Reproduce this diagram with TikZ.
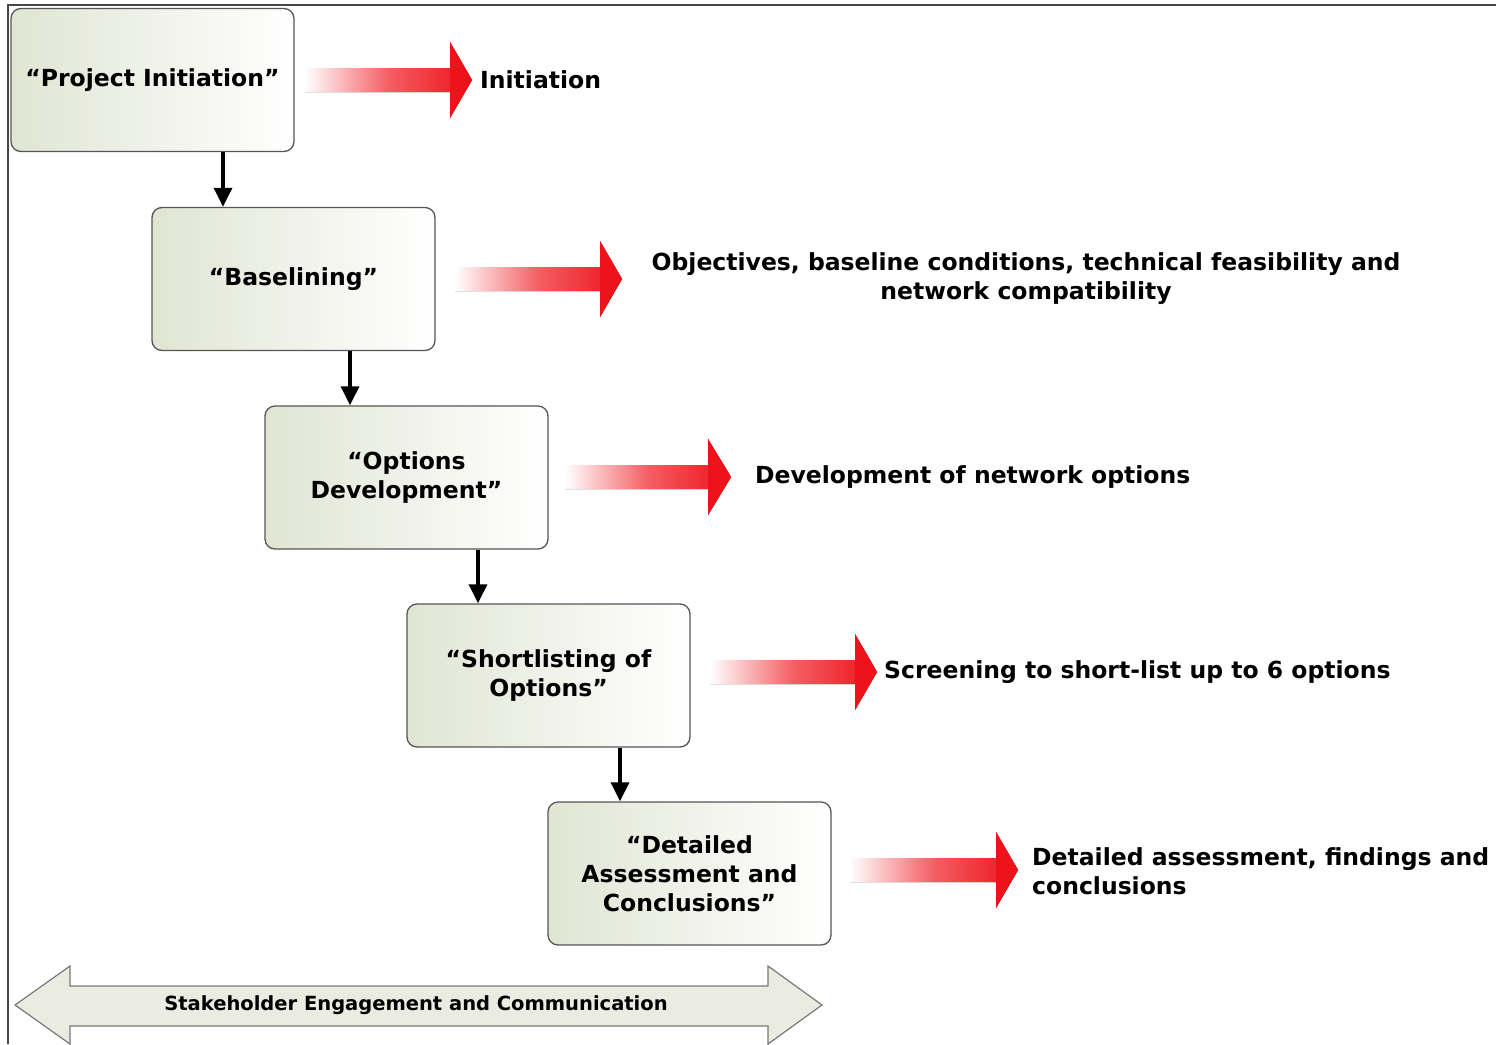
\documentclass[tikz,border=0pt]{standalone}
\usepackage{fontspec}
\setmainfont{DejaVu Sans}
\usetikzlibrary{arrows.meta}
\definecolor{boxfill}{RGB}{224,229,211}
\definecolor{boxline}{RGB}{85,85,85}
\definecolor{arrred}{RGB}{238,18,26}
\definecolor{bandfill}{RGB}{234,236,225}
\definecolor{bandline}{RGB}{120,120,120}
\definecolor{frameline}{RGB}{70,70,70}
\newcommand{\redarrow}[4]{%
  \fill[left color=white, right color=arrred, middle color=arrred!68!white]
    (#1,#4-12) -- (#2,#4-12) -- (#2,#4-38) -- (#3,#4) -- (#2,#4+38) -- (#2,#4+12) -- (#1,#4+12) -- cycle;
  \fill[arrred] (#2,#4-38) -- (#3,#4) -- (#2,#4+38) -- cycle;}
\begin{document}
\begin{tikzpicture}[x=1pt,y=-1pt,
  stage/.style={draw=boxline, line width=1.3pt, rounded corners=10pt,
    left color=boxfill, right color=white, minimum width=283pt, minimum height=143pt,
    align=center, font=\fontsize{23.5}{29}\selectfont\bfseries, inner sep=0pt},
  desc/.style={font=\fontsize{23.5}{29}\selectfont\bfseries, inner sep=0pt},
  down/.style={line width=3.2pt, -{Triangle[length=19pt,width=18pt]}},
]
\useasboundingbox (0,0) rectangle (1496,1044);
\draw[frameline, line width=1.8pt] (8,1044) -- (8,5) -- (1496,5);

\node[stage] (s1) at (152.5,80) {“Project Initiation”};
\node[stage] (s2) at (293.5,279) {“Baselining”};
\node[stage] (s3) at (406.5,477.5) {“Options\\Development”};
\node[stage] (s4) at (548.5,675.5) {“Shortlisting of\\Options”};
\node[stage] (s5) at (689.5,873.5) {“Detailed\\Assessment and\\Conclusions”};

\draw[down] ([xshift=70.5pt]s1.south) -- ([xshift=-70.5pt]s2.north);
\draw[down] ([xshift=56.5pt]s2.south) -- ([xshift=-56.5pt]s3.north);
\draw[down] ([xshift=71.5pt]s3.south) -- ([xshift=-70.5pt]s4.north);
\draw[down] ([xshift=71.5pt]s4.south) -- ([xshift=-69.5pt]s5.north);

\redarrow{305}{450}{472}{80}
\redarrow{455}{600}{622}{279}
\redarrow{565}{708}{731}{477}
\redarrow{710}{855}{877}{672}
\redarrow{850}{996}{1018}{870}

\node[desc, anchor=west] (l1) at (480,80) {Initiation};
\node[desc, align=center] (l2) at (1026,279) {Objectives, baseline conditions, technical feasibility and\\network compatibility};
\node[desc, anchor=west] (l3) at (755,477) {Development of network options};
\node[desc, anchor=west] (l4) at (884,672) {Screening to short-list up to 6 options};
\node[desc, anchor=west, align=left] (l5) at (1032,871) {Detailed assessment, findings and\\conclusions};

\draw[bandline, fill=bandfill, line width=1.2pt]
  (15,1005) -- (70,966) -- (70,986) -- (768,986) -- (768,966) -- (822,1005)
  -- (768,1044) -- (768,1026) -- (70,1026) -- (70,1044) -- cycle;
\node[font=\fontsize{19.5}{22}\selectfont\bfseries, inner sep=0pt] (band) at (416,1005) {Stakeholder Engagement and Communication};
\end{tikzpicture}
\end{document}
